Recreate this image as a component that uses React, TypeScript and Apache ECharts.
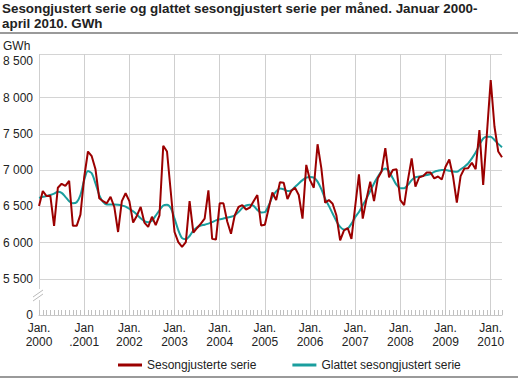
import { useEffect, useRef } from 'react';
import * as echarts from 'echarts';

const FONT = '"Liberation Sans", Arial, sans-serif';

const titleText = 'Sesongjustert serie og glattet sesongjustert serie per måned. Januar 2000-\napril 2010. GWh';
const unitLabel = 'GWh';
const seriesNames = ['Sesongjusterte serie', 'Glattet sesongjustert serie'];

const years = ['2000', '2001', '2002', '2003', '2004', '2005', '2006', '2007', '2008', '2009', '2010'];
const xTickLabels = [
  'Jan.\n2000', 'Jan\n.2001', 'Jan.\n2002', 'Jan.\n2003', 'Jan.\n2004', 'Jan.\n2005',
  'Jan.\n2006', 'Jan.\n2007', 'Jan.\n2008', 'Jan.\n2009', 'Jan.\n2010',
];
const lastYearMonths = 4; // januar–april 2010

// Sesongjustert serie (GWh), januar 2000 – april 2010
const seasonal = [
  6505, 6710, 6640, 6645, 6230, 6755, 6810, 6780, 6850, 6230, 6230, 6385,
  6900, 7255, 7190, 7010, 6610, 6570, 6540, 6630, 6490, 6145, 6570, 6680,
  6570, 6275, 6370, 6490, 6275, 6215, 6355, 6240, 6375, 7335, 7255, 6700,
  6145, 6005, 5940, 6005, 6570, 6135, 6200, 6260, 6330, 6720, 6050, 6040,
  6540, 6540, 6290, 6120, 6375, 6490, 6515, 6455, 6480, 6570, 6655, 6235,
  6245, 6470, 6690, 6585, 6830, 6825, 6600, 6710, 6755, 6655, 6330, 7070,
  6860, 6755, 7355, 7025, 6550, 6585, 6535, 6375, 6030, 6165, 6200, 6050,
  6500, 6940, 6330, 6600, 6840, 6570, 6885, 6980, 7300, 6900, 7000, 7010,
  6585, 6515, 6860, 7160, 6770, 6900, 6915, 6965, 6965, 6885, 6910, 6870,
  7045, 7145, 6910, 6550, 6915, 7020, 7025, 7100, 7010, 7550, 6795, 7510,
  8240, 7600, 7255, 7175,
];

// Glattet sesongjustert serie (GWh)
const smoothed = [
  6615, 6630, 6640, 6655, 6675, 6700, 6685, 6630, 6570, 6540, 6555, 6655,
  6860, 6985, 6955, 6815, 6655, 6560, 6525, 6525, 6525, 6520, 6510, 6495,
  6465, 6430, 6385, 6335, 6295, 6280, 6300, 6370, 6445, 6510, 6520, 6475,
  6330, 6170, 6060, 6045, 6090, 6165, 6210, 6235, 6245, 6260, 6280, 6305,
  6320, 6330, 6345, 6355, 6375, 6420, 6475, 6510, 6520, 6505, 6450, 6415,
  6420, 6510, 6630, 6705, 6745, 6735, 6710, 6720, 6765, 6815, 6860, 6895,
  6905, 6895, 6840, 6735, 6605, 6505, 6400, 6295, 6215, 6180, 6190, 6260,
  6350, 6420, 6515, 6605, 6710, 6815, 6905, 6985, 7020, 6980, 6885, 6795,
  6750, 6750, 6795, 6860, 6900, 6910, 6920, 6930, 6945, 6975, 6990, 7000,
  7000, 6990, 6980, 6975, 7010, 7045, 7090, 7160, 7240, 7345, 7435, 7460,
  7460, 7415, 7360, 7315,
];

// y-aksen: brudd mellom 0 og 5 500 (5000 på skalaen vises som 0)
const yMin = 5000;
const yMax = 8600;
const yStep = 500;
const yTopLabel = 8500;

const months: string[] = [];
years.forEach((y, yi) => {
  const n = yi === years.length - 1 ? lastYearMonths : 12;
  for (let m = 1; m <= n; m++) months.push(`${y}-${String(m).padStart(2, '0')}`);
});

const fmtNum = (v: number) => {
  if (v === yMin) return '0';
  if (v % yStep !== 0) return '';
  return String(v).replace(/\B(?=(\d{3})+(?!\d))/g, ' ');
};

// split line colours per tick (5000 … 8500, top edge); no line at 8 500
const ySplitColors: string[] = [];
for (let v = yMin; v <= yTopLabel; v += yStep) ySplitColors.push(v === yTopLabel ? 'rgba(0,0,0,0)' : '#d4d4d4');
ySplitColors.push('#d4d4d4');

export default function App() {
  const ref = useRef<HTMLDivElement>(null);
  useEffect(() => {
    if (!ref.current) return;
    const chart = echarts.init(ref.current, undefined, { renderer: 'svg' });
    chart.setOption({
      animation: false,
      backgroundColor: '#ffffff',
      grid: { left: 39, right: 16, top: 54, bottom: 68, containLabel: false },
      legend: {
        data: seriesNames,
        left: 113,
        top: 354,
        icon: 'rect',
        itemWidth: 24,
        itemHeight: 3,
        itemGap: 36,
        textStyle: { fontSize: 12, color: '#222', fontFamily: FONT },
      },
      xAxis: {
        type: 'category',
        data: months,
        boundaryGap: false,
        axisLine: { show: true, lineStyle: { color: '#c8c8c8', width: 1 } },
        axisTick: {
          show: true,
          inside: true,
          length: 5,
          interval: 0,
          lineStyle: { color: '#c0c0c0' },
        },
        axisLabel: {
          interval: (i: number) => i % 12 === 0,
          formatter: (_v: string, idx: number) => xTickLabels[Math.round(idx / 12)] ?? '',
          color: '#222',
          fontSize: 12,
          lineHeight: 14,
          margin: 6,
          fontFamily: FONT,
        },
        splitLine: {
          show: true,
          interval: (i: number) => i % 12 === 0,
          lineStyle: { color: '#cfcfcf', width: 1 },
        },
      },
      yAxis: {
        type: 'value',
        min: yMin,
        max: yMax,
        interval: yStep,
        axisLine: { show: false },
        axisTick: { show: false },
        axisLabel: {
          formatter: fmtNum,
          color: '#222',
          fontSize: 12,
          margin: 6,
          fontFamily: FONT,
        },
        splitLine: { show: true, lineStyle: { color: ySplitColors, width: 1 } },
      },
      series: [
        {
          name: seriesNames[1],
          type: 'line',
          data: smoothed,
          symbol: 'none',
          smooth: 0.3,
          lineStyle: { color: '#1a9e9e', width: 2 },
          itemStyle: { color: '#1a9e9e' },
          z: 2,
        },
        {
          name: seriesNames[0],
          type: 'line',
          data: seasonal,
          symbol: 'none',
          lineStyle: { color: '#9b0000', width: 2 },
          itemStyle: { color: '#9b0000' },
          z: 3,
        },
      ],
      graphic: [
        {
          type: 'text',
          left: 2,
          top: 1,
          style: {
            text: titleText,
            font: `bold 13.4px ${FONT}`,
            fill: '#222',
            lineHeight: 15,
          },
        },
        { type: 'rect', shape: { x: 0, y: 32, width: 518, height: 2 }, style: { fill: '#9a9a9a' } },
        {
          type: 'text',
          left: 3,
          top: 40,
          style: { text: unitLabel, font: `12px ${FONT}`, fill: '#222' },
        },
        { type: 'rect', z: 50, shape: { x: 36, y: 289, width: 7, height: 11 }, style: { fill: '#ffffff' } },
        { type: 'line', z: 51, shape: { x1: 33, y1: 297, x2: 43, y2: 290 }, style: { stroke: '#bbbbbb', lineWidth: 1 } },
        { type: 'line', z: 51, shape: { x1: 33, y1: 301, x2: 43, y2: 294 }, style: { stroke: '#bbbbbb', lineWidth: 1 } },
        { type: 'rect', shape: { x: 0, y: 376, width: 518, height: 2 }, style: { fill: '#9a9a9a' } },
      ],
    });
    return () => chart.dispose();
  }, []);
  return (
    <div
      ref={ref}
      style={{ position: 'fixed', left: 0, top: 0, width: 518, height: 383 }}
    />
  );
}
